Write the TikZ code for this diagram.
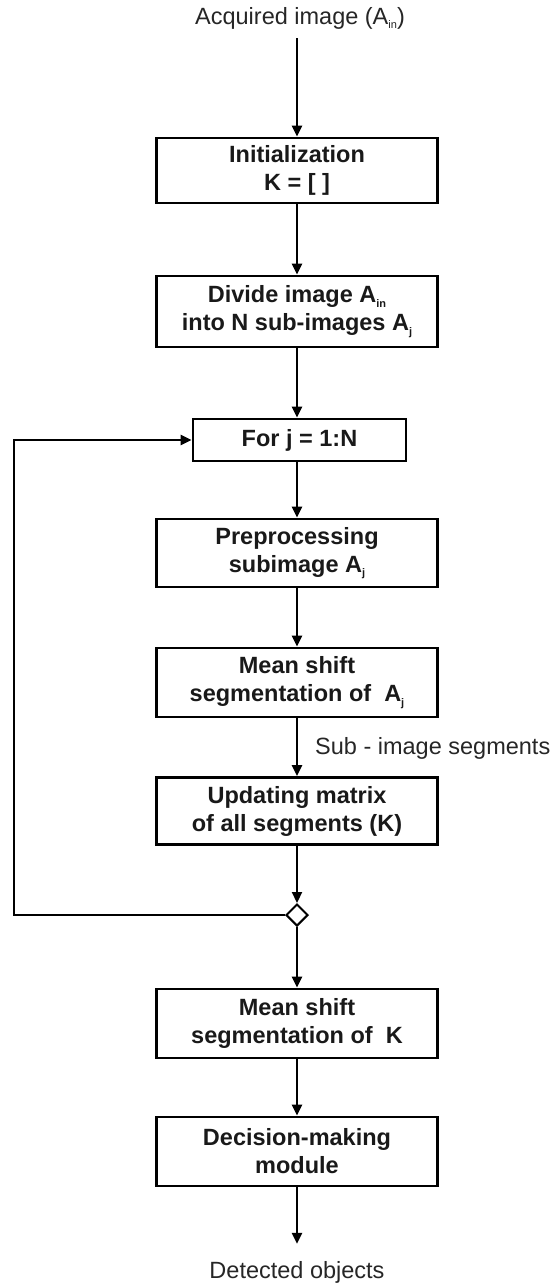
\documentclass[tikz,border=0pt]{standalone}
\usepackage{fontspec}
\setmainfont{Liberation Sans}
\usetikzlibrary{arrows.meta,shapes.geometric}
\newcommand{\sbs}[1]{\raisebox{-0.35ex}{\fontsize{11}{11}\selectfont #1}}
\begin{document}
\begin{tikzpicture}[x=1pt,y=-1pt,
  box/.style={draw, line width=2.8pt, minimum width=281pt, align=center, inner sep=0pt,
    font=\fontsize{23.5}{28}\selectfont\bfseries, text=black!90},
  lbl/.style={font=\fontsize{23.5}{28}\selectfont, inner sep=0pt, text=black!85},
  arr/.style={line width=2.2pt, -{Triangle[length=11pt,width=10pt]}},
  plain/.style={line width=2pt}]
\path[use as bounding box] (0,0) rectangle (555,1287);
\node[lbl] (in) at (300,18) {Acquired image (A\sbs{in})};
\node[box, minimum height=65pt] (init) at (297,170.5) {Initialization\\K = [ ]};
\node[box, minimum height=71pt] (div) at (297,311.5) {Divide image A\sbs{in}\\into N sub-images A\sbs{j}};
\node[box, minimum width=213pt, minimum height=42pt] (for) at (299.5,440) {For j = 1:N};
\node[box, minimum height=68pt] (pre) at (297,553) {Preprocessing\\subimage A\sbs{j}};
\node[box, minimum height=69pt] (ms) at (297,682.5) {Mean shift\\segmentation of\ \ A\sbs{j}};
\node[box, minimum height=67pt] (upd) at (297,811) {Updating matrix\\of all segments (K)};
\node[diamond, draw, line width=2pt, minimum size=22pt, inner sep=0pt, fill=white] (dia) at (297,915) {};
\node[box, minimum height=69pt] (msk) at (297,1023.5) {Mean shift\\segmentation of\ \ K};
\node[box, minimum height=69pt] (dec) at (297,1151.5) {Decision-making\\module};
\node[lbl] (out) at (297,1272) {Detected objects};
\node[lbl, anchor=west] (seg) at (315,748) {Sub - image segments};
\coordinate (loopx) at (14,0);

\draw[arr] ([yshift=-9pt]in.south -| init.north) -- (init.north);
\draw[arr] (init.south) -- (div.north);
\draw[arr] (div.south) -- (div.south |- for.north);
\draw[arr] (for.south -| pre.north) -- (pre.north);
\draw[arr] (pre.south) -- (ms.north);
\draw[arr] (ms.south) -- (upd.north);
\draw[arr] (upd.south) -- (dia.north);
\draw[arr] (dia.south) -- (msk.north);
\draw[arr] (msk.south) -- (dec.north);
\draw[arr] (dec.south) -- ([yshift=17pt]out.north);
\draw[arr] (dia.west) -- (dia.west -| loopx) |- (for.west);
\end{tikzpicture}
\end{document}
